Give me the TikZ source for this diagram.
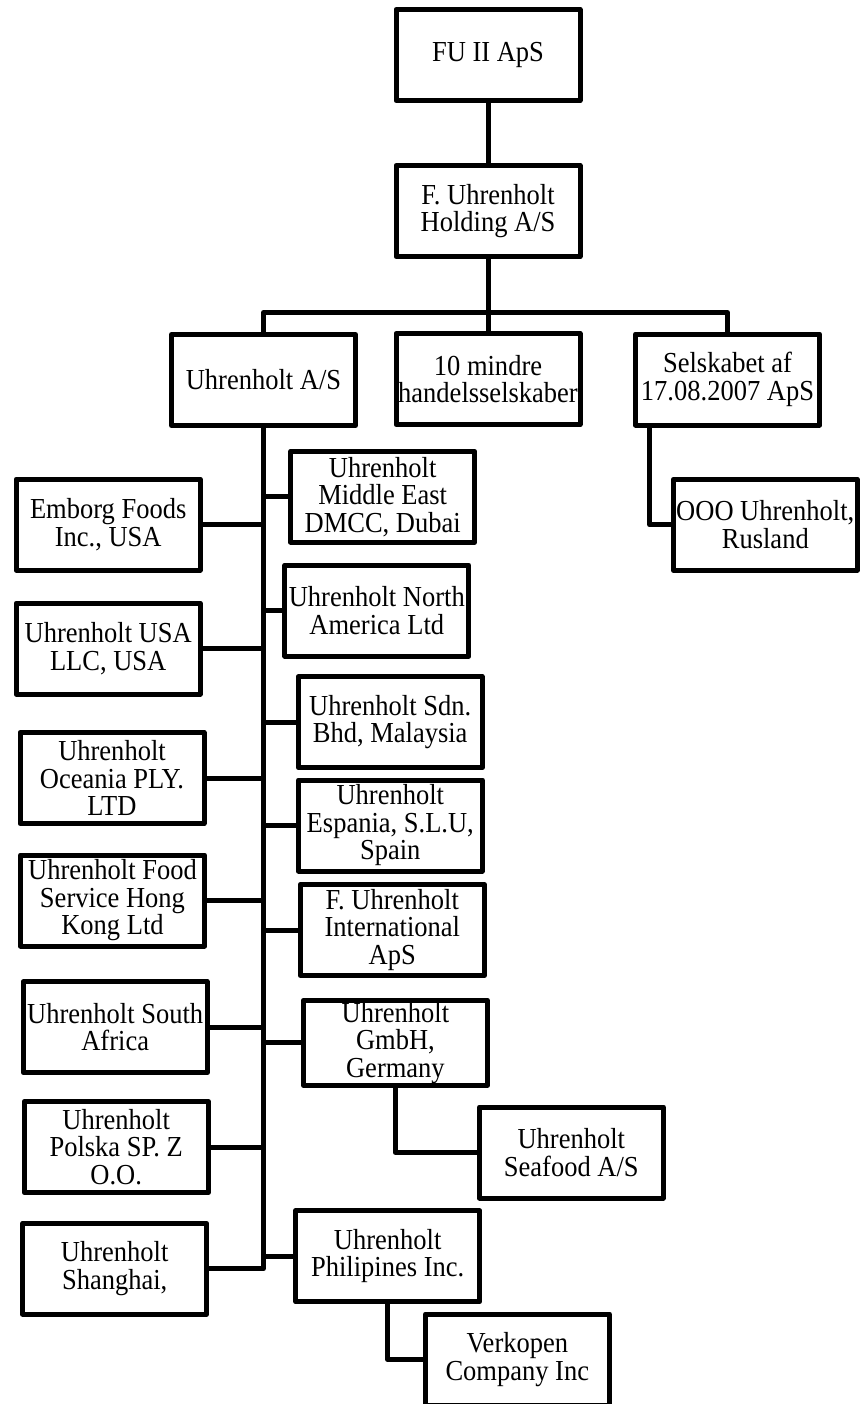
\documentclass[tikz,border=0pt]{standalone}
\usepackage{fontspec}
\setmainfont[FakeStretch=0.914]{Liberation Serif}
\usetikzlibrary{positioning}

\begin{document}
\begin{tikzpicture}[
  x=1pt, y=-1pt,
  line width=5pt,
  line join=round,
  firm/.style={
    draw,
    rectangle,
    minimum width=184pt,
    minimum height=#1,
    inner sep=0pt,
    align=center,
    font=\fontsize{29}{27.5}\selectfont
    },
  firm/.default=91pt
]
\useasboundingbox (0,0) rectangle (862,1404);
\clip (0,0) rectangle (862,1404);

% top of the tree
\node[firm] (fu) at (488,55) {FU II ApS};
\node[firm] (holding) at (488,211) {F. Uhrenholt\\Holding A/S};
\node[firm] (uas) at (263.5,380) {Uhrenholt A/S};
\node[firm] (mindre) at (488,379) {10 mindre\\handelsselskaber};
\node[firm] (selsk) at (727.5,379.5) {Selskabet af\\17.08.2007 ApS};
\node[firm] (ooo) at (765.3,524.7) {OOO Uhrenholt,\\Rusland};

% left column
\node[firm] (emborg) at (108.2,524.7) {Emborg Foods\\Inc., USA};
\node[firm] (usa) at (108.2,648.7) {Uhrenholt USA\\LLC, USA};
\node[firm] (oceania) at (112,778) {Uhrenholt\\Oceania PLY.\\LTD};
\node[firm] (hongkong) at (112.5,900.5) {Uhrenholt Food\\Service Hong\\Kong Ltd};
\node[firm] (safrica) at (115.2,1027.2) {Uhrenholt South\\Africa};
\node[firm] (polska) at (116.2,1147) {Uhrenholt\\Polska SP. Z\\O.O.};
\node[firm] (shanghai) at (114.7,1268.7) {Uhrenholt\\Shanghai,};

% right column
\node[firm] (mideast) at (382.7,496.7) {Uhrenholt\\Middle East\\DMCC, Dubai};
\node[firm] (namerica) at (376.8,610.7) {Uhrenholt North\\America Ltd};
\node[firm] (sdn) at (390.2,722.2) {Uhrenholt Sdn.\\Bhd, Malaysia};
\node[firm] (espania) at (390.3,825.5) {Uhrenholt\\Espania, S.L.U,\\Spain};
\node[firm] (intl) at (392.3,930) {F. Uhrenholt\\International\\ApS};
\node[firm=85pt] (gmbh) at (395.4,1042.7) {Uhrenholt\\GmbH,\\Germany};
\node[firm] (seafood) at (571.3,1152.5) {Uhrenholt\\Seafood A/S};
\node[firm] (philip) at (387.7,1256.2) {Uhrenholt\\Philipines Inc.};
\node[firm] (verkopen) at (517.3,1359.5) {Verkopen\\Company Inc};

% connectors
\coordinate (bus) at (488,312.5);
\draw (fu) -- (holding);
\draw (holding) -- (bus);
\draw (uas.north) |- (bus) -| (selsk.north);
\draw (bus) -- (mindre.north);
\draw ([xshift=16.5pt]selsk.south west) |- (ooo.west);

\draw (uas.south) |- (shanghai.east);
\foreach \Firm in {emborg,usa,oceania,hongkong,safrica,polska}
  \draw (\Firm.east) -- (\Firm.east -| uas.south);
\foreach \Firm in {mideast,namerica,sdn,espania,intl,gmbh,philip}
  \draw (\Firm.west) -- (\Firm.west -| uas.south);

\draw (gmbh.south) |- (seafood.west);
\draw (philip.south) |- (verkopen.west);

\end{tikzpicture}
\end{document}
